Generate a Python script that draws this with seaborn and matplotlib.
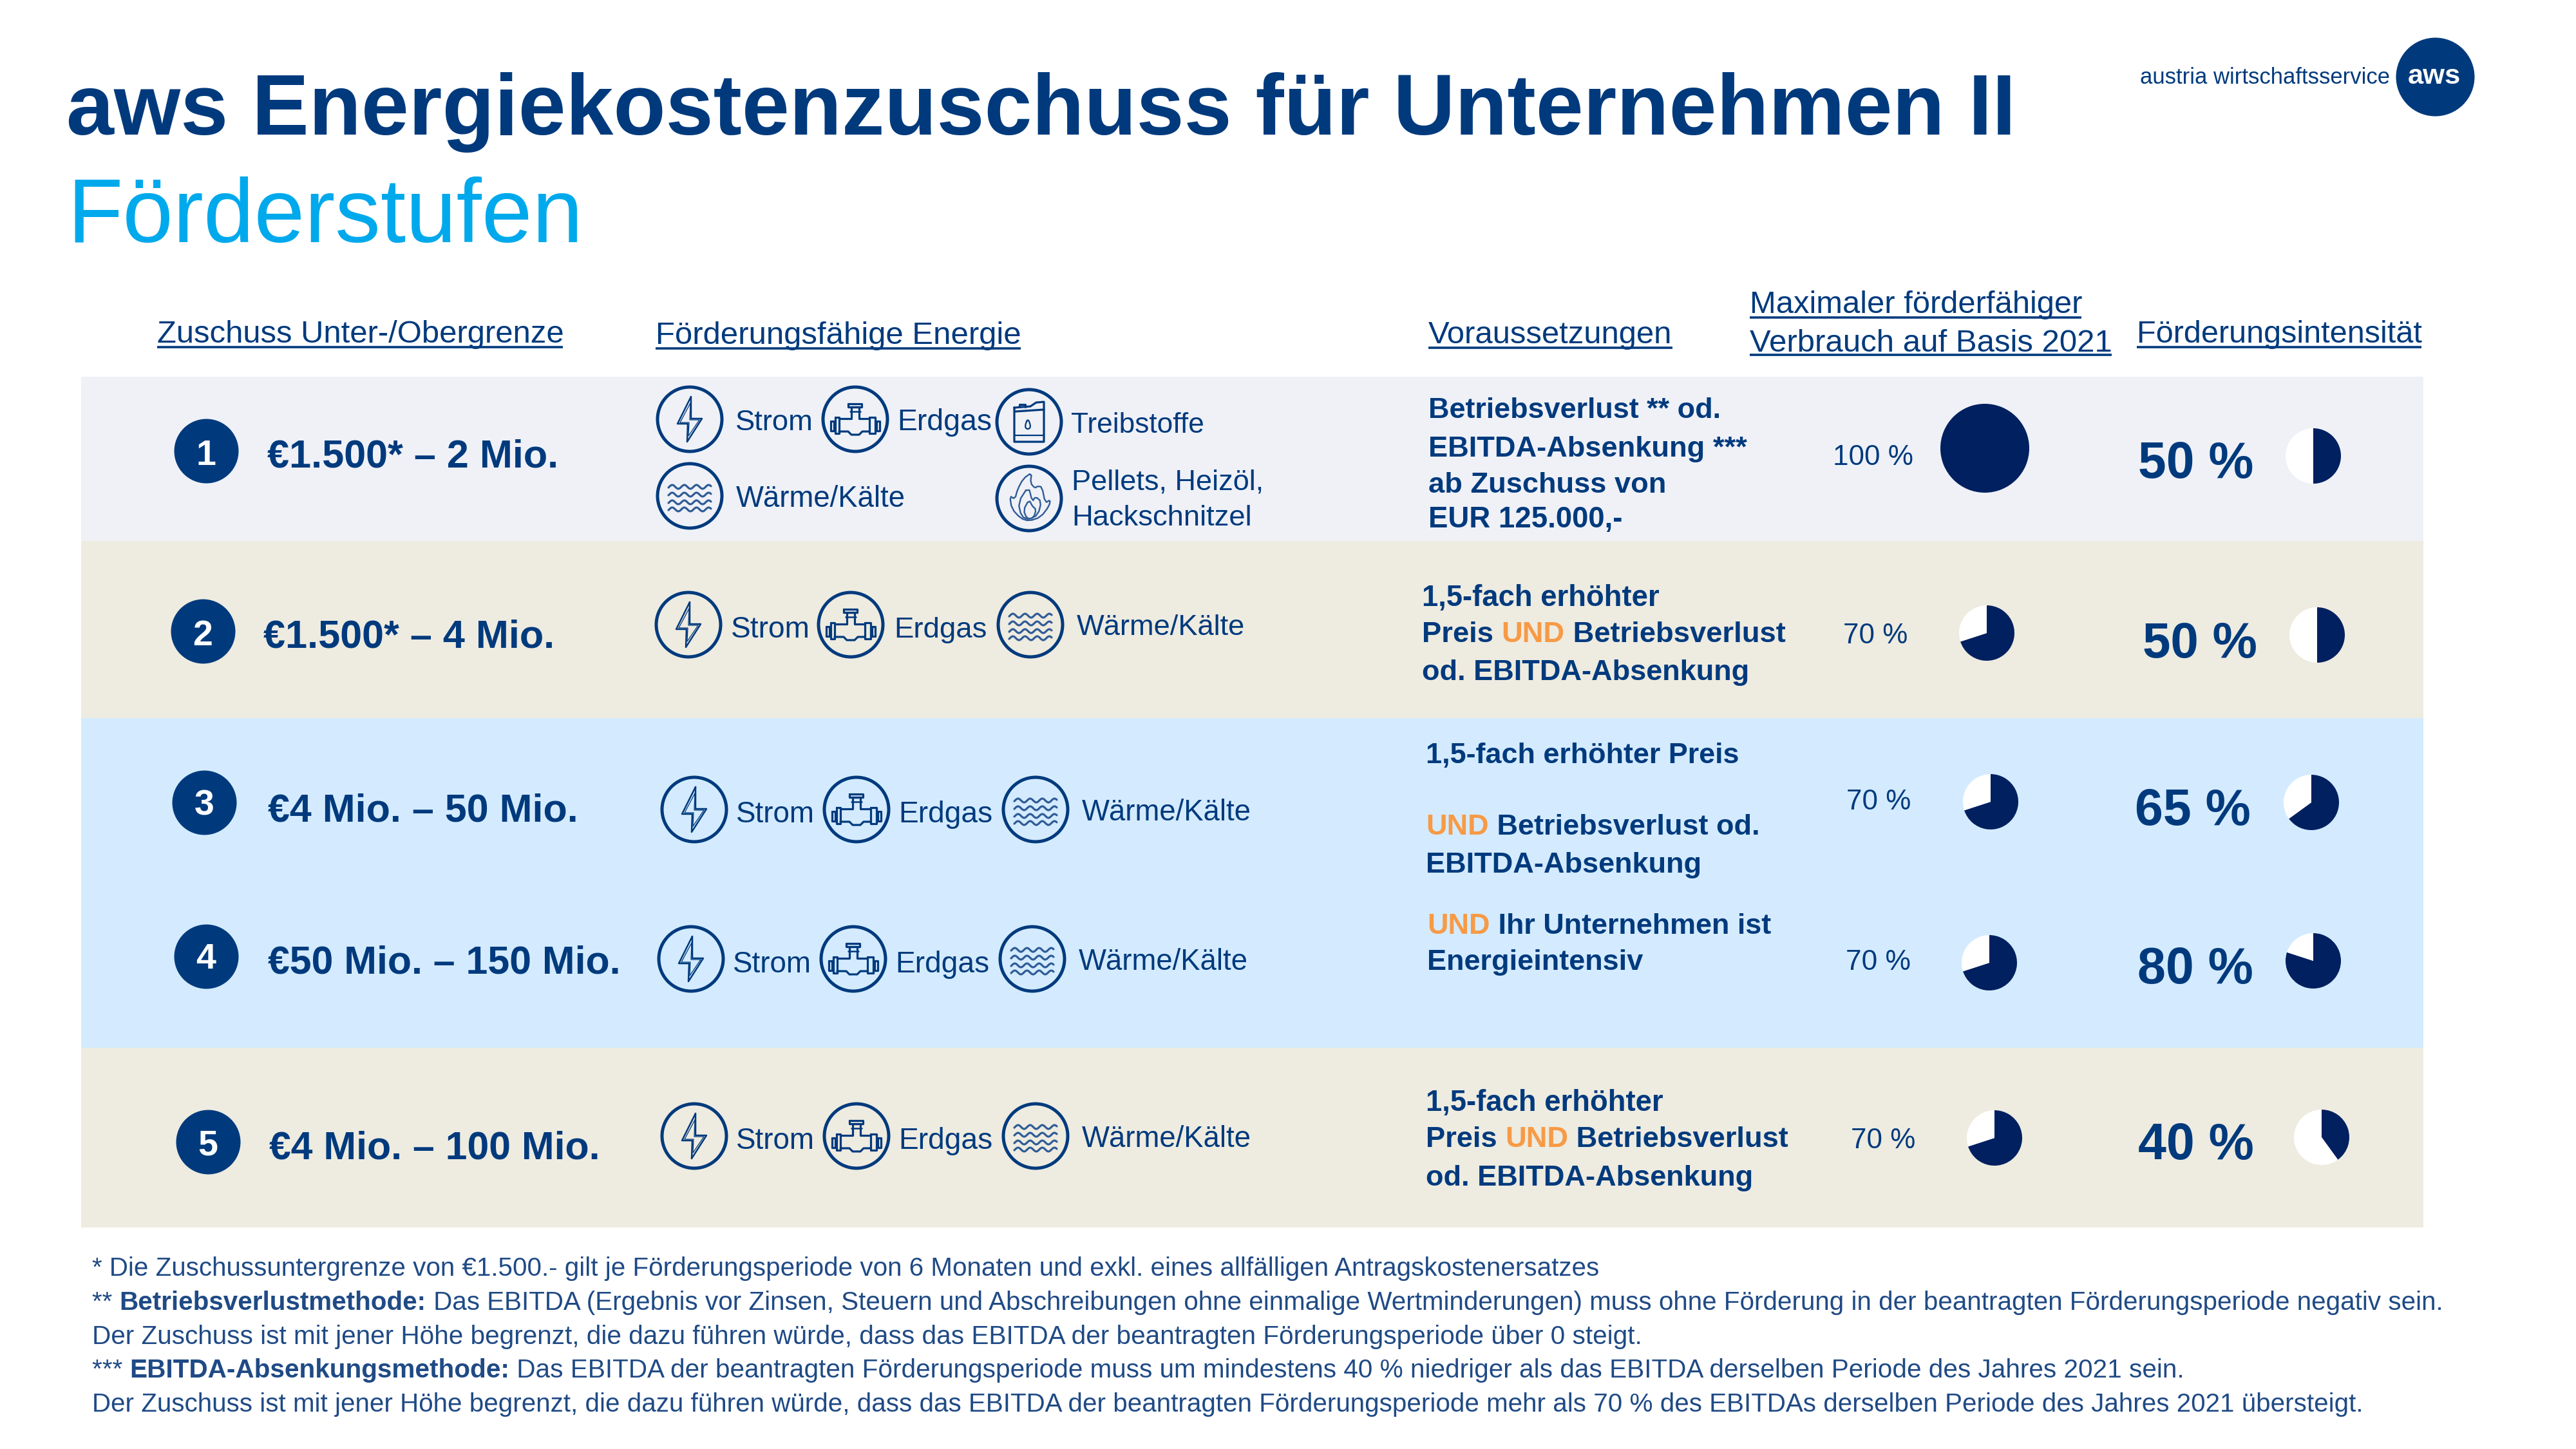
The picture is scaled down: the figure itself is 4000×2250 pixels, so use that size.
import numpy as np
import pandas as pd
import matplotlib
matplotlib.use("Agg")
import matplotlib.pyplot as plt
from matplotlib.patches import Circle, Rectangle
import seaborn as sns

# ---------- content ----------
title_main = "aws Energiekostenzuschuss für Unternehmen II"
title_sub = "Förderstufen"
logo_text = "austria wirtschaftsservice"
logo_badge = "aws"
stufen = ["1", "2", "3", "4", "5"]
betraege = ["€1.500* – 2 Mio.", "€1.500* – 4 Mio.", "€4 Mio. – 50 Mio.",
            "€50 Mio. – 150 Mio.", "€4 Mio. – 100 Mio."]
max_verbrauch = [100, 70, 70, 70, 70]
intensitaet = [50, 50, 65, 80, 40]
kopf = ["Zuschuss Unter-/Obergrenze", "Förderungsfähige Energie", "Voraussetzungen",
        "Maximaler förderfähiger", "Verbrauch auf Basis 2021", "Förderungsintensität"]
energie = ["Strom", "Erdgas", "Wärme/Kälte", "Treibstoffe", "Pellets, Heizöl,", "Hackschnitzel"]
fussnoten = [
    [("* Die Zuschussuntergrenze von €1.500.- gilt je Förderungsperiode von 6 Monaten und exkl. eines allfälligen Antragskostenersatzes", 0)],
    [("** ", 0), ("Betriebsverlustmethode:", 1), (" Das EBITDA (Ergebnis vor Zinsen, Steuern und Abschreibungen ohne einmalige Wertminderungen) muss ohne Förderung in der beantragten Förderungsperiode negativ sein.", 0)],
    [("Der Zuschuss ist mit jener Höhe begrenzt, die dazu führen würde, dass das EBITDA der beantragten Förderungsperiode über 0 steigt.", 0)],
    [("*** ", 0), ("EBITDA-Absenkungsmethode:", 1), (" Das EBITDA der beantragten Förderungsperiode muss um mindestens 40 % niedriger als das EBITDA derselben Periode des Jahres 2021 sein.", 0)],
    [("Der Zuschuss ist mit jener Höhe begrenzt, die dazu führen würde, dass das EBITDA der beantragten Förderungsperiode mehr als 70 % des EBITDAs derselben Periode des Jahres 2021 übersteigt.", 0)],
]
bedingungen = [
    [["Betriebsverlust ** od."], ["EBITDA-Absenkung ***"], ["ab Zuschuss von"], ["EUR 125.000,-"]],
    [["1,5-fach erhöhter"], ["Preis ", "UND", " Betriebsverlust"], ["od. EBITDA-Absenkung"]],
    [["1,5-fach erhöhter Preis"], ["UND", " Betriebsverlust od."], ["EBITDA-Absenkung"]],
    [["UND", " Ihr Unternehmen ist"], ["Energieintensiv"]],
    [["1,5-fach erhöhter"], ["Preis ", "UND", " Betriebsverlust"], ["od. EBITDA-Absenkung"]],
]
tabelle = pd.DataFrame({"stufe": stufen, "betrag": betraege,
                        "max": max_verbrauch, "intensitaet": intensitaet})

# ---------- style ----------
sns.set_theme(style="white")
plt.rcParams["font.family"] = ["Liberation Sans", "DejaVu Sans"]
NAVY, DARK, SKY, ORANGE = "#003A7D", "#002060", "#00A9EC", "#F79A46"
FOOT, ICON2 = "#1F4A85", "#2F5C97"

W, H = 4000, 2250
fig = plt.figure(figsize=(40, 22.5), dpi=100, facecolor="white")
ax = fig.add_axes([0, 0, 1, 1])
renderer = fig.canvas.get_renderer()


def width_of(text, weight, size=40):
    a = ax.text(0, 0, "|" + text + "|", fontsize=size, fontweight=weight)
    b = ax.text(0, 0, "||", fontsize=size, fontweight=weight)
    w = a.get_window_extent(renderer).width - b.get_window_extent(renderer).width
    a.remove(); b.remove()
    return w


def fit(x0, x1, y, runs):
    """Draw (text, colour, weight) runs on baseline y so they span x0..x1 pixels."""
    size = 40.0
    for _ in range(5):
        size *= (x1 - x0) / sum(width_of(t, w, size) for t, _, w in runs)
    x = x0
    for t, c, w in runs:
        ax.text(x, y, t, color=c, fontweight=w, fontsize=size, ha="left", va="baseline", zorder=5)
        x += width_of(t, w, size)


def put(x0, x1, y, text, color=NAVY, weight="normal"):
    fit(x0, x1, y, [(text, color, weight)])


def chaikin(p, n=2):
    p = np.asarray(p, float)
    for _ in range(n):
        q = np.roll(p, -1, axis=0)
        p = np.column_stack([0.75 * p + 0.25 * q, 0.25 * p + 0.75 * q]).reshape(-1, 2)
    return np.vstack([p, p[0]])


def stroke(cx, cy, pts, lw=2.3, color=NAVY):
    p = np.asarray(pts, float)
    ax.plot(cx + p[:, 0], cy + p[:, 1], color=color, lw=lw, solid_joinstyle="round",
            solid_capstyle="round", zorder=4)


def icon(kind, cx, cy):
    ax.add_patch(Circle((cx, cy), 50, fill=False, ec=NAVY, lw=3.6, zorder=4))
    if kind == "Strom":
        stroke(cx, cy, [(2, -35), (-19, 7), (-3, 7), (-4, 35), (19, -1), (2, -1), (2, -35)], lw=1.8)
        stroke(cx, cy, [(1, -25), (-15, 5), (-1, 5), (-2, 26), (15, 1), (0, 1), (1, -25)], lw=0.9)
    elif kind == "Erdgas":
        stroke(cx, cy, [(-25, -1), (-6, -1), (-6, -19), (6, -19), (6, -1), (22, -1)])
        stroke(cx, cy, [(-25, 19), (-11, 19), (-6, 24), (6, 24), (11, 19), (22, 19)])
        stroke(cx, cy, [(-11, -24), (10, -24), (10, -19), (-11, -19), (-11, -24)])
        stroke(cx, cy, [(-8, -12), (8, -12)], lw=1.8)
        stroke(cx, cy, [(-31, -3), (-25, -3), (-25, 22), (-31, 22), (-31, -3)])
        stroke(cx, cy, [(22, -3), (31, -3), (31, 22), (22, 22), (22, -3)])
        stroke(cx, cy, [(-38, 3), (-33, 3), (-33, 18), (-38, 18), (-38, 3)])
        stroke(cx, cy, [(33, 3), (38, 3), (38, 18), (33, 18), (33, 3)])
    elif kind == "Wärme":
        xs = np.linspace(-33, 33, 60)
        for dy in (-14, -2, 10, 21):
            stroke(cx, cy, np.column_stack([xs, dy + 3 * np.sin(xs / 33 * 1.75 * 2 * np.pi + 1.2)]), lw=2.3, color=ICON2)
    elif kind == "Treibstoffe":
        stroke(cx, cy, [(-23, -22), (2, -24), (11, -30), (23, -31), (23, 31), (-23, 31), (-23, -22)])
        stroke(cx, cy, [(-15, -23), (-15, -27), (-6, -27), (-6, -23)])
        stroke(cx, cy, [(-22, -16), (23, -19)])
        stroke(cx, cy, [(-23, 21), (23, 21)], lw=1.6)
        stroke(cx, cy, chaikin([(-2, -6), (-7, 8), (-2, 12), (3, 8)]), lw=1.6)
    else:
        outer = [(4, -40), (-9, -31), (-18, -14), (-22, 1), (-30, -4), (-27, 16), (-13, 31), (0, 35),
                 (18, 29), (31, 12), (33, 2), (25, 7), (20, -18), (13, -19), (9, -16), (2, -24)]
        mid = [(-1, -19), (-17, 6), (-12, 28), (0, 33), (14, 25), (19, 5), (10, -3), (5, 5)]
        low = [(0, 2), (-9, 18), (-3, 32), (7, 30), (11, 17), (5, 12)]
        for f in (outer, mid, low):
            stroke(cx, cy, chaikin(f, 1), lw=1.7, color=ICON2)


def pie(value, cx, cy, r):
    a = fig.add_axes([(cx - r) / W, 1 - (cy + r) / H, 2 * r / W, 2 * r / H])
    a.pie([value, 100 - value], colors=[DARK, "white"], startangle=90, counterclock=False,
          radius=1, wedgeprops={"linewidth": 0})
    a.set_xlim(-1, 1); a.set_ylim(-1, 1)


# ---------- bands ----------
bands = [(585, 840, "#EFF1F7"), (840, 1115, "#EEEBE0"), (1115, 1627, "#D4EBFF"), (1627, 1906, "#EEEBE0")]
for y0, y1, c in bands:
    ax.add_patch(Rectangle((126, y0), 3763 - 126, y1 - y0, fc=c, ec="none", zorder=1))

# ---------- titles and logo ----------
put(103, 3130, 209, title_main, NAVY, "bold")
put(104, 905, 376, title_sub, SKY)
put(3323, 3709, 130, logo_text)
sns.scatterplot(x=[3781], y=[119], s=(122 * 0.72) ** 2, color=NAVY, linewidth=0, ax=ax, legend=False, zorder=3)
put(3739, 3821, 130, logo_badge, "white", "bold")

# ---------- headers ----------
kopf_pos = [(244, 874, 532, 539), (1018, 1585, 534, 541), (2218, 2597, 533, 540),
            (2717, 3232, 486, 493), (2717, 3279, 546, 551), (3318, 3760, 532, 539)]
for t, (x0, x1, yb, yu) in zip(kopf, kopf_pos):
    put(x0, x1, yb, t)
    ax.plot([x0, x1], [yu, yu], color=NAVY, lw=2.6, solid_capstyle="butt", zorder=4)

# ---------- badges and amounts ----------
badge_xy = [(320, 700, 722), (315, 980, 1002), (317, 1246, 1266), (320, 1485, 1504), (323, 1773, 1794)]
tabelle["bx"] = [b[0] for b in badge_xy]
tabelle["by"] = [b[1] for b in badge_xy]
sns.scatterplot(data=tabelle, x="bx", y="by", s=72 ** 2, color=NAVY, linewidth=0, ax=ax, legend=False, zorder=3)
for s, (bx, _, yb) in zip(stufen, badge_xy):
    ax.text(bx, yb, s, color="white", fontweight="bold", fontsize=40, ha="center", va="baseline", zorder=5)
betrag_pos = [(415, 867, 726), (409, 861, 1006), (416, 897, 1275), (416, 963, 1511), (418, 932, 1800)]
for t, (x0, x1, yb) in zip(betraege, betrag_pos):
    put(x0, x1, yb, t, NAVY, "bold")

# ---------- energy icons ----------
for kind, cx, cy in [("Strom", 1071, 651), ("Erdgas", 1328, 651), ("Treibstoffe", 1598, 655),
                     ("Wärme", 1071, 770), ("Feuer", 1598, 774)]:
    icon(kind, cx, cy)
for xs_, yi in [((1069, 1321, 1600), 970), ((1078, 1330, 1608), 1257),
                ((1073, 1325, 1603), 1489), ((1078, 1330, 1608), 1764)]:
    for kind, cx in zip(("Strom", "Erdgas", "Wärme"), xs_):
        icon(kind, cx, yi)

energie_pos = [
    (0, 1142, 1263, 668), (1, 1393, 1540, 668), (3, 1663, 1870, 672), (2, 1143, 1406, 787),
    (4, 1664, 1962, 760), (5, 1664, 1943, 816),
    (0, 1135, 1258, 990), (1, 1388, 1532, 990), (2, 1672, 1934, 986),
    (0, 1143, 1265, 1277), (1, 1395, 1541, 1277), (2, 1680, 1943, 1274),
    (0, 1138, 1260, 1510), (1, 1390, 1536, 1510), (2, 1675, 1938, 1506),
    (0, 1143, 1265, 1784), (1, 1395, 1541, 1784), (2, 1680, 1943, 1781),
]
for i, x0, x1, yb in energie_pos:
    put(x0, x1, yb, energie[i])

# ---------- conditions ----------
bed_pos = [
    [(2218, 2672, 649), (2218, 2712, 709), (2218, 2587, 765), (2218, 2520, 819)],
    [(2208, 2577, 941), (2208, 2772, 997), (2208, 2717, 1056)],
    [(2214, 2702, 1185), (2214, 2732, 1296), (2214, 2643, 1355)],
    [(2216, 2749, 1450), (2216, 2552, 1506)],
    [(2214, 2583, 1725), (2214, 2776, 1781), (2214, 2722, 1841)],
]
for zeilen, pos in zip(bedingungen, bed_pos):
    for z, (x0, x1, yb) in zip(zeilen, pos):
        fit(x0, x1, yb, [(t, ORANGE if t == "UND" else NAVY, "bold") for t in z])

# ---------- percent labels and pies ----------
max_lab = [(2846, 2971, 722), (2862, 2962, 999), (2867, 2967, 1257), (2866, 2967, 1506), (2874, 2974, 1783)]
max_pie = [(3082, 696, 69), (3085, 983, 43), (3091, 1245, 43), (3089, 1495, 43), (3097, 1767, 43)]
int_lab = [(3320, 3499, 742), (3327, 3505, 1021), (3315, 3495, 1281), (3319, 3499, 1527), (3320, 3500, 1800)]
int_pie = [(3592, 708, 43), (3598, 986, 43), (3589, 1246, 43), (3592, 1492, 43), (3605, 1766, 43)]
for row, ml, mp, il, ip in zip(tabelle.itertuples(), max_lab, max_pie, int_lab, int_pie):
    put(*ml, f"{row.max} %")
    pie(row.max, *mp)
    put(*il, f"{row.intensitaet} %", NAVY, "bold")
    pie(row.intensitaet, *ip)

# ---------- footnotes ----------
fuss_pos = [(143, 2490, 1981), (143, 3797, 2034), (143, 2551, 2087), (143, 3392, 2139), (143, 3674, 2192)]
for zeile, (x0, x1, yb) in zip(fussnoten, fuss_pos):
    fit(x0, x1, yb, [(t, FOOT, "bold" if b else "normal") for t, b in zeile])

ax.set_xlim(0, W)
ax.set_ylim(H, 0)
ax.set_xlabel(""); ax.set_ylabel("")
ax.axis("off")
fig.savefig("out.png", dpi=100, facecolor="white")
